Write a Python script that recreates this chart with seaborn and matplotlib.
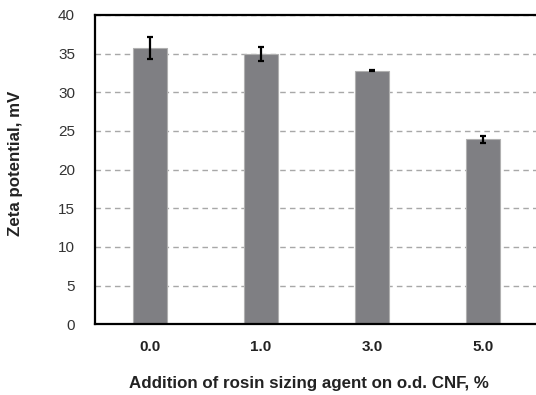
import matplotlib
matplotlib.use("Agg")
import matplotlib.pyplot as plt
import seaborn as sns
import pandas as pd
import numpy as np

categories = ["0.0", "1.0", "3.0", "5.0"]
zeta = [35.7, 35.0, 32.8, 23.9]
zeta_err = [1.4, 0.9, 0.1, 0.5]
yticks = [0, 5, 10, 15, 20, 25, 30, 35, 40]

sns.set_theme(style="white")
plt.rcParams['font.family'] = ['Liberation Sans', 'DejaVu Sans']

df = pd.DataFrame({"cat": categories, "zeta": zeta})

W, H = 536, 395
fig = plt.figure(figsize=(W / 100, H / 100), dpi=100)
left, right, top, bottom = 94.5, 538.5, 15, 324.3
ax = fig.add_axes([left / W, 1 - bottom / H, (right - left) / W, (bottom - top) / H])

sns.barplot(data=df, x="cat", y="zeta", color="#7f7f83", saturation=1,
            width=0.313, edgecolor="#b0b0b0", linewidth=0.8, errorbar=None, ax=ax, zorder=2)
ax.errorbar(x=np.arange(len(categories)), y=zeta, yerr=zeta_err, fmt="none",
            ecolor="black", elinewidth=1.6, capsize=2.3, capthick=1.6, zorder=3)

ax.set_ylim(0, 40)
ax.set_xlim(-0.5, len(categories) - 0.5)
ax.set_yticks(yticks)
ax.set_yticklabels([str(t) for t in yticks], fontsize=11, color="#333333")
ax.set_xticks(np.arange(len(categories)))
ax.set_xticklabels(categories, fontsize=11, fontweight="bold", color="#222222")
ax.set_xticks(np.arange(len(categories)) - 0.5, minor=True)
ax.tick_params(axis="x", which="major", length=0, pad=11)
ax.tick_params(axis="x", which="minor", length=4, width=1.2, direction="out", color="black")
ax.tick_params(axis="y", which="major", length=5, width=1.2, direction="out", color="black", pad=9)

ax.yaxis.grid(True, linestyle=(0, (4, 3)), color="#a8a8a8", linewidth=1.0, zorder=0)
ax.set_axisbelow(True)
for s in ["left", "bottom", "top"]:
    ax.spines[s].set_color("black")
    ax.spines[s].set_linewidth(1.6)
ax.spines["right"].set_visible(False)

ax.set_ylabel("Zeta potential, mV", fontsize=12.2, fontweight="bold", color="#222222")
ax.set_xlabel("Addition of rosin sizing agent on o.d. CNF, %", fontsize=12.2,
              fontweight="bold", color="#222222")
ax.xaxis.set_label_coords((309 - left) / (right - left), -(376 - bottom) / (bottom - top))
ax.yaxis.set_label_coords(-(94.5 - 23) / (right - left), (bottom - 163) / (bottom - top))

fig.savefig("out.png", dpi=100)
